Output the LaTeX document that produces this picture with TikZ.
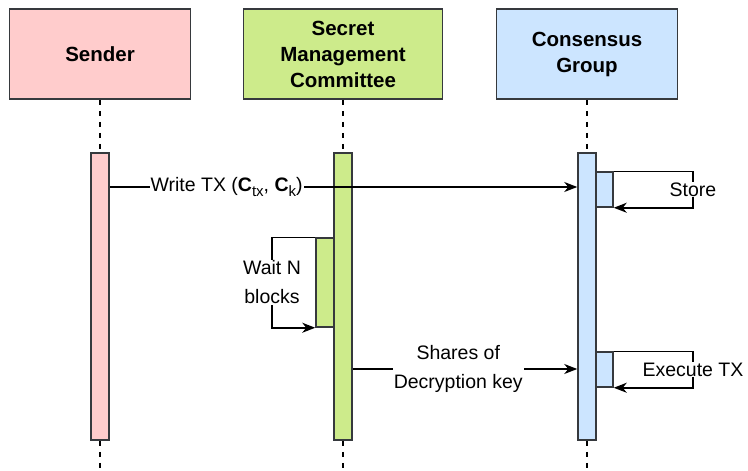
\documentclass[tikz,border=0pt]{standalone}
\usepackage{fontspec}
\setmainfont{Liberation Sans}
\usetikzlibrary{arrows.meta,calc}
\definecolor{sendfill}{HTML}{FFCCCC}
\definecolor{smcfill}{HTML}{CDEB8B}
\definecolor{cgfill}{HTML}{CCE5FF}
\definecolor{edgegray}{HTML}{36393D}

% lowered subscript in the drawing's own size
\newcommand{\lowsub}[1]{\raisebox{-5pt}{\fontsize{15}{15}\selectfont #1}}

\begin{document}
\begin{tikzpicture}[x=1pt,y=-1pt,
  head/.style={draw=edgegray,line width=1.5pt,minimum width=181pt,minimum height=90pt,
    align=center,inner sep=0pt,font=\fontsize{20.5}{26}\selectfont\bfseries},
  bar/.style={draw=edgegray,line width=1.5pt,minimum width=18pt,inner sep=0pt},
  life/.style={line width=1.5pt,dash pattern=on 5pt off 6pt},
  msg/.style={line width=1.5pt,-{Stealth[length=13pt,width=10pt,inset=4pt]}},
  lbl/.style={fill=white,inner sep=1pt,align=center,font=\fontsize{19.5}{29}\selectfont}]

\useasboundingbox (0,0) rectangle (748,471);

% participants
\node[head,fill=sendfill] (snd) at (100,54) {Sender};
\node[head,fill=smcfill,minimum width=199pt] (smc) at (343,54) {Secret\\Management\\Committee};
\node[head,fill=cgfill] (cg) at (587,54) {Consensus\\Group};

% lifelines
\coordinate (bottom) at (0,471);
\draw[life] (snd.south) -- (snd.south |- bottom);
\draw[life] (smc.south) -- (smc.south |- bottom);
\draw[life] (cg.south) -- (cg.south |- bottom);

% activation bars
\node[bar,fill=sendfill,minimum height=287pt] (sb) at (100,296.5) {};
\node[bar,fill=smcfill,minimum height=287pt] (mb) at (343,296.5) {};
\node[bar,fill=cgfill,minimum height=287pt] (cb) at (587,296.5) {};

% nested activations
\node[bar,fill=cgfill,minimum width=17pt,minimum height=35pt] (st) at (604.5,189.5) {};
\node[bar,fill=cgfill,minimum width=17pt,minimum height=35pt] (ex) at (604.5,369.5) {};
\node[bar,fill=smcfill,minimum width=18pt,minimum height=89pt] (wb) at (325,282.5) {};

% helper coordinates
\coordinate (wy) at (0,187);
\coordinate (sy) at (0,369);
\coordinate (lx) at (693,0);
\coordinate (wx) at (272,0);

% messages
\draw[msg] (sb.east |- wy) -- node[lbl,pos=0.25]
  {Write TX (\textbf{C}\lowsub{tx}, \textbf{C}\lowsub{k})} (cb.west |- wy);

\draw[msg] (st.north east) -- (st.north east -| lx) |- node[lbl,pos=0.25] {Store} (st.south east);

\draw[msg] (wb.north west) -- (wb.north west -| wx) |- node[lbl,pos=0.25] {Wait N\\blocks} (wb.south west);

\draw[msg] (mb.east |- sy) -- node[lbl,pos=0.47] {Shares of\\Decryption key} (cb.west |- sy);

\draw[msg] (ex.north east) -- (ex.north east -| lx) |- node[lbl,pos=0.25] {Execute TX} (ex.south east);
\end{tikzpicture}
\end{document}
